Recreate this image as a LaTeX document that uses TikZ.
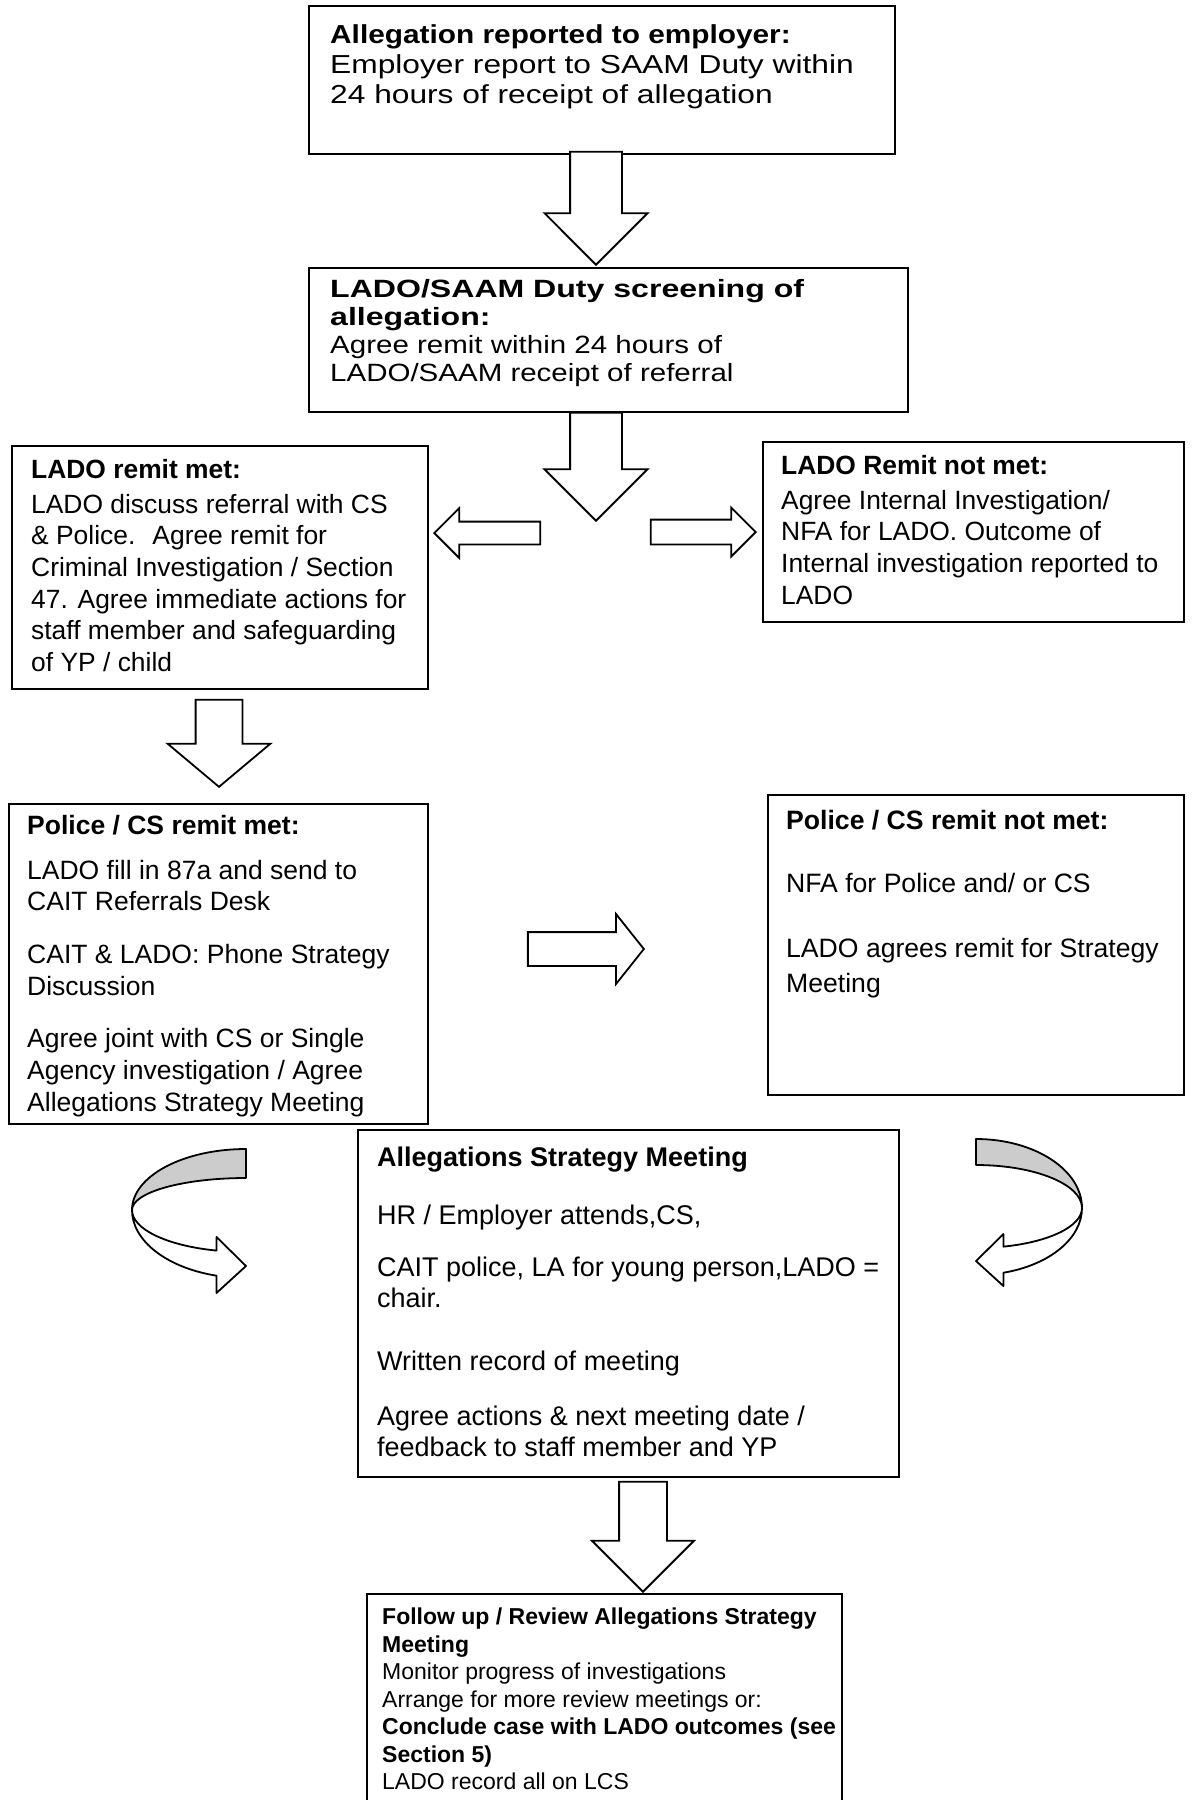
\documentclass[tikz,border=0pt]{standalone}
\usepackage{fontspec}
\usepackage{graphicx}
\setmainfont{Liberation Sans}
\newfontfamily\wideA[FakeStretch=1.22]{Liberation Sans}
\newfontfamily\wideB[FakeStretch=1.18]{Liberation Sans}
\usetikzlibrary{shapes.arrows}
\definecolor{ribbon}{HTML}{CCCCCC}

\begin{document}
\begin{tikzpicture}[x=1pt, y=-1pt,
  box/.style = {draw, line width=1.8pt, anchor=north west, inner sep=0pt},
  txt/.style = {anchor=north west, align=left, inner sep=0pt},
  bigarrow/.style = {draw, line width=1.8pt, single arrow, single arrow tip angle=90, fill=white},
  twist/.style = {draw, line width=1.8pt, line join=round}]

\fill[white] (0,0) rectangle (1199,1800);
\useasboundingbox (0,0) rectangle (1199,1800);

% boxes
\node[box, minimum width=586, minimum height=148] (report) at (308,5) {};
\node[box, minimum width=599, minimum height=144] (screening) at (308,267) {};
\node[box, minimum width=416, minimum height=243] (remitMet) at (11,445) {};
\node[box, minimum width=421, minimum height=180] (remitNotMet) at (762,441) {};
\node[box, minimum width=419, minimum height=320] (policeMet) at (8,803) {};
\node[box, minimum width=416, minimum height=300] (policeNotMet) at (767,794) {};
\node[box, minimum width=541, minimum height=347] (meeting) at (357,1129) {};
\node[box, minimum width=475, minimum height=220] (followUp) at (366,1593) {};

% texts
\node[txt, font=\wideA\fontsize{26}{30}\selectfont] (reportText) at ([shift={(22,19)}]report.north west)
  {\scalebox{0.94}[1]{\textbf{Allegation reported to employer:}}\\Employer report to SAAM Duty within\\24 hours of receipt of allegation};
\node[txt, font=\wideB\fontsize{25}{28}\selectfont] (screeningText) at ([shift={(22,12)}]screening.north west)
  {\scalebox{1.087}[1]{\textbf{LADO/SAAM Duty screening of}}\\\scalebox{1.087}[1]{\textbf{allegation:}}\\Agree remit within 24 hours of\\LADO/SAAM receipt of referral};
\node[txt, font=\fontsize{26.4}{31.7}\selectfont] (remitMetText) at ([shift={(20,14)}]remitMet.north west)
  {\textbf{LADO remit met:}\\[3pt]LADO discuss referral with CS\\\& Police.~ Agree remit for\\Criminal Investigation / Section\\47. Agree immediate actions for\\staff member and safeguarding\\of YP / child};
\node[txt, font=\fontsize{26.4}{31.7}\selectfont] (remitNotMetText) at ([shift={(19,14)}]remitNotMet.north west)
  {\textbf{LADO Remit not met:}\\[3pt]Agree Internal Investigation/\\NFA for LADO. Outcome of\\Internal investigation reported to\\LADO};
\node[txt, font=\fontsize{26.5}{31.7}\selectfont] (policeMetText) at ([shift={(19,12)}]policeMet.north west)
  {\textbf{Police / CS remit met:}\\[13pt]LADO fill in 87a and send to\\CAIT Referrals Desk\\[21pt]CAIT \& LADO: Phone Strategy\\Discussion\\[21pt]Agree joint with CS or Single\\Agency investigation / Agree\\Allegations Strategy Meeting};
\node[txt, font=\fontsize{26.6}{35}\selectfont] (policeNotMetText) at ([shift={(19,16)}]policeNotMet.north west)
  {\textbf{Police / CS remit not met:}\\[28pt]NFA for Police and/ or CS\\[30pt]LADO agrees remit for Strategy\\Meeting};
\node[txt, font=\fontsize{27}{31.7}\selectfont] (meetingText) at ([shift={(20,18)}]meeting.north west)
  {\textbf{Allegations Strategy Meeting}\\[26pt]HR / Employer attends,CS,\\[20pt]CAIT police, LA for young person,LADO =\\chair.\\[31pt]Written record of meeting\\[23pt]Agree actions \& next meeting date /\\feedback to staff member and YP};
\node[txt, font=\fontsize{23}{27.5}\selectfont] (followUpText) at ([shift={(16,15)}]followUp.north west)
  {\textbf{Follow up / Review Allegations Strategy}\\\textbf{Meeting}\\Monitor progress of investigations\\Arrange for more review meetings or:\\\textbf{Conclude case with LADO outcomes (see}\\\textbf{Section 5)}\\LADO record all on LCS};

% block arrows
\node[bigarrow, shape border rotate=270, inner sep=25pt, minimum height=113, minimum width=101, single arrow head extend=25.5, anchor=tip] (a1) at (596,266) {};
\node[bigarrow, shape border rotate=270, inner sep=25pt, minimum height=108, minimum width=101, single arrow head extend=25.5, anchor=tip] (a2) at (596,522) {};
\node[bigarrow, shape border rotate=180, inner sep=10.5pt, minimum height=106, minimum width=48, single arrow head extend=13.5, anchor=tip] (a3) at (433,533) {};
\node[bigarrow, inner sep=11.5pt, minimum height=105, minimum width=47, single arrow head extend=12, anchor=tip] (a4) at (757,532) {};
\node[bigarrow, shape border rotate=270, inner sep=22.5pt, minimum height=87, minimum width=101, single arrow head extend=28, single arrow tip angle=100, anchor=tip] (a5) at (219,788) {};
\node[bigarrow, inner sep=16pt, minimum height=116, minimum width=68, single arrow head extend=18, single arrow tip angle=103, anchor=tip] (a6) at (645,949) {};
\node[bigarrow, shape border rotate=270, inner sep=23pt, minimum height=110, minimum width=100, single arrow head extend=27, anchor=tip] (a7) at (643,1593) {};

% curved arrows
\draw[twist, fill=ribbon] (246,1149) arc[start angle=90, end angle=180, x radius=114pt, y radius=61pt]
  arc[start angle=180, end angle=90, x radius=114pt, y radius=32pt] -- cycle;
\draw[twist, fill=white] (132,1210) arc[start angle=180, end angle=255, x radius=114pt, y radius=68pt]
  -- ++(0,17.3) -- ++(29.5,-27) -- ++(-29.5,-29) -- ++(0,13.6)
  arc[start angle=255, end angle=180, x radius=114pt, y radius=42pt] -- cycle;
\draw[twist, fill=ribbon] (976,1139) arc[start angle=90, end angle=0, x radius=106pt, y radius=69pt]
  arc[start angle=0, end angle=90, x radius=106pt, y radius=43pt] -- cycle;
\draw[twist, fill=white] (1082,1208) arc[start angle=0, end angle=-75, x radius=106pt, y radius=67pt]
  -- ++(0,13.3) -- ++(-27.4,-25) -- ++(27.4,-27) -- ++(0,12.6)
  arc[start angle=-75, end angle=0, x radius=106pt, y radius=40pt] -- cycle;
\end{tikzpicture}
\end{document}
